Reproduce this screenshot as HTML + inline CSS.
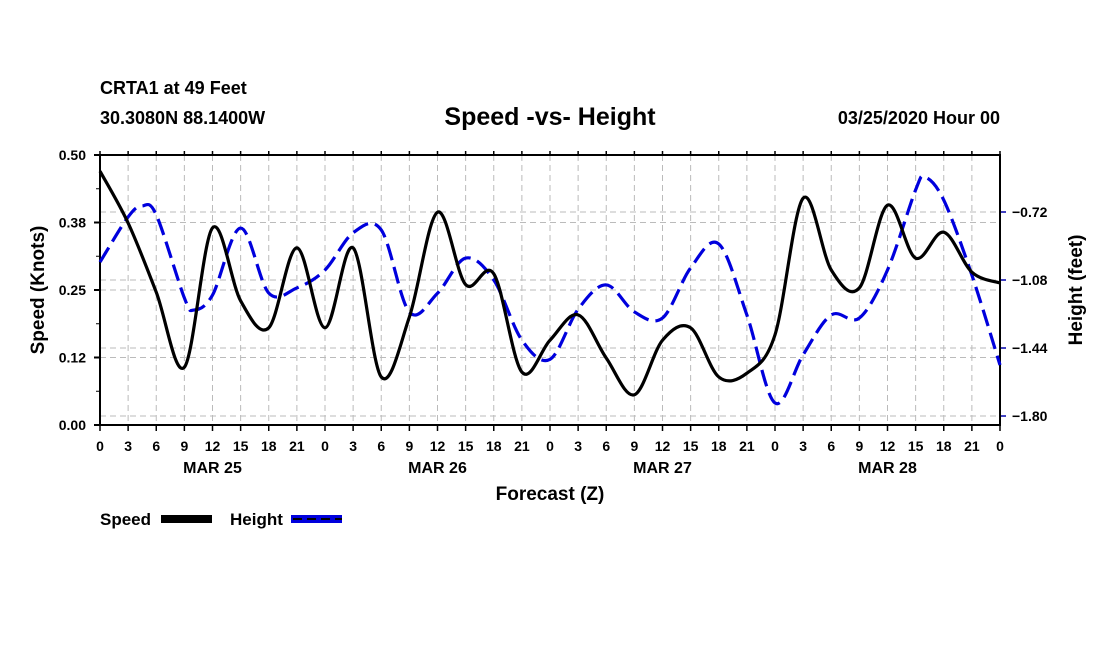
<!DOCTYPE html>
<html><head><meta charset="utf-8"><style>
body{margin:0;background:#fff;}
svg{display:block;font-family:"Liberation Sans",Arial,sans-serif;font-weight:bold;}
</style></head><body>
<svg id="chart" width="1100" height="650">
<text x="100" y="94" font-size="18">CRTA1 at 49 Feet</text>
<text x="100" y="124" font-size="18">30.3080N 88.1400W</text>
<text x="550" y="125" font-size="25" text-anchor="middle">Speed -vs- Height</text>
<text x="1000" y="124" font-size="18" text-anchor="end">03/25/2020 Hour 00</text>
<g id="grid"></g>
<g id="axes"></g>
<g id="series"></g>
<text x="550" y="500" font-size="19" text-anchor="middle">Forecast (Z)</text>
<text transform="translate(44,290) rotate(-90)" font-size="19" text-anchor="middle">Speed (Knots)</text>
<text transform="translate(1082,290) rotate(-90)" font-size="19" text-anchor="middle">Height (feet)</text>
<g>
<text x="100" y="525" font-size="17">Speed</text>
<rect x="161" y="515" width="51" height="8" fill="#000"/>
<text x="230" y="525" font-size="17">Height</text>
<rect x="291" y="515" width="51" height="8" fill="#0000dd"/>
<line x1="293" y1="519" x2="342" y2="519" stroke="#000" stroke-width="2" stroke-dasharray="9 5"/>
</g>
</svg>
<script>
const hours=[0,3,6,9,12,15,18,21,24,27,30,33,36,39,42,45,48,51,54,57,60,63,66,69,72,75,78,81,84,87,90,93,96];
const speedVals=[0.47,0.374,0.246,0.107,0.365,0.23,0.18,0.328,0.18,0.328,0.089,0.2,0.394,0.26,0.28,0.098,0.157,0.204,0.124,0.056,0.157,0.18,0.089,0.096,0.167,0.42,0.287,0.254,0.407,0.309,0.357,0.283,0.263];
const heightHours=[0,3,4.5,6,9,10,12,15,18,21,24,27,30,33,36,39,42,45,48,51,54,57,60,63,66,69,72,75,78,81,84,87,88,90,93,96];
const heightVals=[-0.985,-0.746,-0.688,-0.735,-1.175,-1.239,-1.16,-0.805,-1.149,-1.122,-1.027,-0.83,-0.815,-1.25,-1.15,-0.964,-1.08,-1.398,-1.50,-1.235,-1.106,-1.249,-1.281,-1.016,-0.889,-1.265,-1.731,-1.476,-1.265,-1.281,-1.027,-0.603,-0.535,-0.657,-1.054,-1.53];
const hourLabels=["0","3","6","9","12","15","18","21"];
const dateLabels=["MAR 25","MAR 26","MAR 27","MAR 28"];
const leftTicks=[0,0.125,0.25,0.375,0.5];
const leftTickLabels=["0.00","0.12","0.25","0.38","0.50"];
const rightTicks=[-0.72,-1.08,-1.44,-1.80];
const rightTickLabels=["\u22120.72","\u22121.08","\u22121.44","\u22121.80"];

const X0=100,X1=1000,YT=155,YB=425;
const x=h=>X0+(h/96)*(X1-X0);
const yL=v=>YB-(v/0.5)*(YB-YT);
const yR=v=>212+(-0.72-v)*188.9;
const NS="http://www.w3.org/2000/svg";
function mk(tag,attrs,parent){const e=document.createElementNS(NS,tag);for(const k in attrs)e.setAttribute(k,attrs[k]);parent.appendChild(e);return e;}
const grid=document.getElementById('grid'),axes=document.getElementById('axes'),series=document.getElementById('series');
for(let h=3;h<96;h+=3){const l=mk('line',{x1:x(h),x2:x(h),y1:YT,y2:YB,stroke:'#bbb','stroke-dasharray':'6 4'},grid);

}
leftTicks.forEach((v,i)=>{
 if(i>0&&i<4){const l=mk('line',{x1:X0,x2:X1,y1:yL(v),y2:yL(v),stroke:'#bbb','stroke-dasharray':'6 4'},grid);
 
 }
 mk('line',{x1:X0-6,x2:X0,y1:yL(v),y2:yL(v),stroke:'#000','stroke-width':2},axes);
 const t=mk('text',{x:X0-14,y:yL(v)+5,'font-size':14,'text-anchor':'end'},axes);t.textContent=leftTickLabels[i];
 
 
});
for(let v=0.0625;v<0.5;v+=0.125)mk('line',{x1:X0-4,x2:X0,y1:yL(v),y2:yL(v),stroke:'#000','stroke-width':1},axes);
rightTicks.forEach((v,i)=>{
 const l=mk('line',{x1:X0,x2:X1,y1:yR(v),y2:yR(v),stroke:'#bbb','stroke-dasharray':'6 4'},grid);
 
 
 mk('line',{x1:X1,x2:X1+6,y1:yR(v),y2:yR(v),stroke:'#0000aa','stroke-width':1.5},axes);
 const t=mk('text',{x:X1+12,y:yR(v)+5,'font-size':14},axes);t.textContent=rightTickLabels[i];
 
 
});
mk('rect',{x:X0,y:YT,width:X1-X0,height:YB-YT,fill:'none',stroke:'#000','stroke-width':2},axes);
for(let h=0;h<=96;h+=3){
 mk('line',{x1:x(h),x2:x(h),y1:YB,y2:YB+6,stroke:'#000','stroke-width':1.5},axes);
 mk('line',{x1:x(h),x2:x(h),y1:YT,y2:YT-4,stroke:'#000','stroke-width':1.5},axes);
 const t=mk('text',{x:x(h),y:451,'font-size':14,'text-anchor':'middle'},axes);t.textContent=hourLabels[(h/3)%8];
 
 
}
dateLabels.forEach((d,i)=>{const t=mk('text',{x:x(12+24*i),y:473,'font-size':16,'text-anchor':'middle'},axes);t.textContent=d;
 
 });
function smooth(pts){let d=`M${pts[0][0]},${pts[0][1]}`;
 for(let i=0;i<pts.length-1;i++){const p0=pts[Math.max(0,i-1)],p1=pts[i],p2=pts[i+1],p3=pts[Math.min(pts.length-1,i+2)];
 d+=` C${p1[0]+(p2[0]-p0[0])/6},${p1[1]+(p2[1]-p0[1])/6} ${p2[0]-(p3[0]-p1[0])/6},${p2[1]-(p3[1]-p1[1])/6} ${p2[0]},${p2[1]}`;}
 return d;}
const hp=mk('path',{d:smooth(heightHours.map((h,i)=>[x(h),yR(heightVals[i])])),fill:'none',stroke:'#0000dd','stroke-width':3.2,'stroke-dasharray':'17 7'},series);


const sp=mk('path',{d:smooth(hours.map((h,i)=>[x(h),yL(speedVals[i])])),fill:'none',stroke:'#000','stroke-width':3.2},series);


</script>
</body></html>
